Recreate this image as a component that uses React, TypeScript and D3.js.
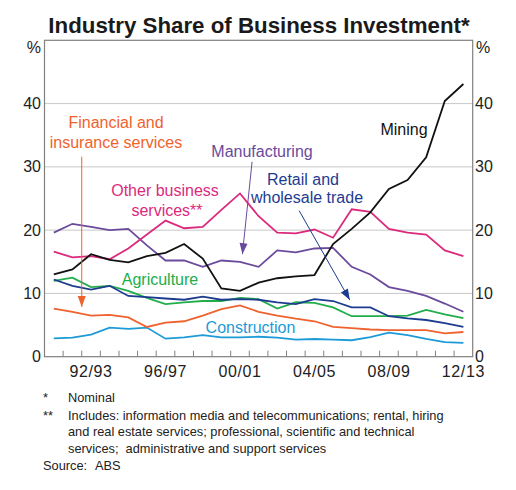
import * as d3 from "d3";

const years = ["90/91", "91/92", "92/93", "93/94", "94/95", "95/96", "96/97", "97/98", "98/99", "99/00", "00/01", "01/02",
    "02/03", "03/04", "04/05", "05/06", "06/07", "07/08", "08/09", "09/10", "10/11", "11/12", "12/13"];
const yearLabels = ["92/93", "96/97", "00/01", "04/05", "08/09", "12/13"];
const yTicks = [0, 10, 20, 30, 40];

// shares of business investment, per cent
const mining = [13.0, 13.8, 16.2, 15.3, 14.9, 15.9, 16.4, 17.8, 15.5, 10.8, 10.4, 11.7, 12.4, 12.7, 12.9, 17.8, 20.2, 22.8, 26.5, 27.9, 31.5, 40.4, 43.1];
const otherBusiness = [16.6, 15.7, 15.9, 15.4, 17.1, 19.3, 21.5, 20.3, 20.5, 23.2, 25.8, 22.2, 19.6, 19.5, 20.1, 18.8, 23.3, 22.9, 20.2, 19.6, 19.3, 16.8, 15.9];
const manufacturing = [19.6, 21.0, 20.5, 20.0, 20.2, 17.6, 15.2, 15.2, 14.2, 15.2, 15.0, 14.2, 16.8, 16.5, 17.1, 17.2, 14.2, 13.0, 11.0, 10.4, 9.6, 8.4, 7.1];
const retail = [12.2, 11.2, 10.6, 11.2, 9.6, 9.4, 9.2, 9.0, 9.5, 9.0, 9.1, 9.0, 8.6, 8.3, 9.1, 8.8, 7.8, 7.8, 6.4, 6.05, 5.8, 5.3, 4.7];
const agriculture = [12.0, 12.5, 11.0, 11.2, 10.4, 9.3, 8.3, 8.6, 8.8, 8.8, 9.3, 9.1, 7.6, 8.6, 8.5, 7.8, 6.4, 6.4, 6.4, 6.5, 7.4, 6.7, 6.1];
const financial = [7.6, 7.1, 6.5, 6.6, 6.2, 4.7, 5.4, 5.6, 6.5, 7.5, 8.1, 7.1, 6.5, 6.0, 5.6, 4.7, 4.5, 4.3, 4.2, 4.2, 4.2, 3.7, 3.9];
const construction = [2.9, 3.0, 3.5, 4.6, 4.4, 4.6, 2.85, 3.05, 3.4, 3.05, 3.05, 3.15, 3.0, 2.7, 2.8, 2.7, 2.6, 3.1, 3.8, 3.4, 2.8, 2.3, 2.2];

const series = [
    {name: "Construction", values: construction, color: "#1c9bd7"},
    {name: "Financial", values: financial, color: "#f0622d"},
    {name: "Agriculture", values: agriculture, color: "#22ad4b"},
    {name: "Retail", values: retail, color: "#1d3c8f"},
    {name: "Manufacturing", values: manufacturing, color: "#6a4a9c"},
    {name: "Other", values: otherBusiness, color: "#db2a7e"},
    {name: "Mining", values: mining, color: "#111111"},
];

const font = "Arial, 'Liberation Sans', sans-serif";
const frame = {left: 44.5, right: 472.7, top: 40.3, bottom: 356.7};

function arrowHead(x1: number, y1: number, x2: number, y2: number, len = 11, half = 4) {
    const a = Math.atan2(y2 - y1, x2 - x1);
    const bx = x2 - len * Math.cos(a), by = y2 - len * Math.sin(a);
    const px = -Math.sin(a) * half, py = Math.cos(a) * half;
    return `M${x2},${y2}L${bx + px},${by + py}L${bx - px},${by - py}Z`;
}

export default function App() {
    const x = d3.scaleBand().domain(years).range([frame.left, frame.right]).padding(0);
    const y = d3.scaleLinear().domain([0, 50]).range([frame.bottom, frame.top]);
    const bw = x.bandwidth();
    const cx = (i: number) => (x(years[i]) as number) + bw / 2;
    const xf = (t: number) => frame.left + t * bw;

    const line = d3.line<number>().x((d, i) => cx(i)).y(d => y(d));

    // annotation arrows (band units, percent)
    const arrows = [
        {x1: xf(2), y1: y(31.6), x2: xf(2), y2: y(7.85), color: "#f0622d"},
        {x1: xf(11.15), y1: y(30.8), x2: xf(10.63), y2: y(16.2), color: "#6a4a9c"},
        {x1: xf(13.68), y1: y(23.07), x2: xf(16.4), y2: y(8.96), color: "#1d3c8f"},
    ];

    return (
        <svg width={516} height={490} style={{position: "absolute", left: 0, top: 0, background: "#fff"}}
             fontFamily={font}>
            <text x={259} y={33.3} textAnchor="middle" fontSize={22.3} fontWeight="bold" fill="#1a1a1a">
                Industry Share of Business Investment*
            </text>

            {/* gridlines */}
            {yTicks.filter(t => t > 0).map(t => (
                <line key={t} x1={frame.left} x2={frame.right} y1={y(t)} y2={y(t)} stroke="#c8c8c8" strokeWidth={1}/>
            ))}

            {/* frame */}
            <rect x={frame.left} y={frame.top} width={frame.right - frame.left} height={frame.bottom - frame.top}
                  fill="none" stroke="#808080" strokeWidth={1.2}/>

            {/* x ticks */}
            {years.slice(1).map(yr => (
                <line key={yr} x1={x(yr)} x2={x(yr)} y1={frame.bottom} y2={frame.bottom - 6} stroke="#808080"
                      strokeWidth={1}/>
            ))}
            {yearLabels.map(l => (
                <text key={l} x={(x(l) as number) + bw / 2} y={377} textAnchor="middle" fontSize={16}
                      letterSpacing={0.6} fill="#222">{l}</text>
            ))}

            {/* y labels */}
            {yTicks.map(t => (
                <g key={t}>
                    <text x={41} y={y(t) + 5.6} textAnchor="end" fontSize={16} fill="#222">{t}</text>
                    <text x={475} y={y(t) + 5.6} textAnchor="start" fontSize={16} fill="#222">{t}</text>
                </g>
            ))}
            <text x={41} y={53.3} textAnchor="end" fontSize={16} fill="#222">%</text>
            <text x={476} y={53.3} textAnchor="start" fontSize={16} fill="#222">%</text>

            {/* series */}
            {series.map(s => (
                <path key={s.name} d={line(s.values) as string} fill="none" stroke={s.color} strokeWidth={1.8}
                      strokeLinejoin="miter"/>
            ))}

            {/* arrows */}
            {arrows.map((a, i) => (
                <g key={i}>
                    <line x1={a.x1} y1={a.y1} x2={a.x2} y2={a.y2} stroke={a.color} strokeWidth={1}/>
                    <path d={arrowHead(a.x1, a.y1, a.x2, a.y2)} fill={a.color}/>
                </g>
            ))}

            {/* labels */}
            <g fontSize={16}>
                <text x={116} y={128.3} textAnchor="middle" fill="#f0622d">Financial and</text>
                <text x={116} y={148} textAnchor="middle" fill="#f0622d">insurance services</text>
                <text x={262} y={157.3} textAnchor="middle" fill="#6a4a9c">Manufacturing</text>
                <text x={165} y={195.7} textAnchor="middle" fill="#db2a7e">Other business</text>
                <text x={167} y={215.7} textAnchor="middle" fill="#db2a7e">services**</text>
                <text x={303} y={185} textAnchor="middle" fill="#1d3c8f">Retail and</text>
                <text x={307} y={202.7} textAnchor="middle" fill="#1d3c8f">wholesale trade</text>
                <text x={404} y={135} textAnchor="middle" fill="#111">Mining</text>
                <text x={160} y={285} textAnchor="middle" fill="#22ad4b">Agriculture</text>
                <text x={250.5} y={333.3} textAnchor="middle" fill="#1c9bd7">Construction</text>
            </g>

            {/* footnotes */}
            <g fontSize={12.8} fill="#222">
                <text x={43} y={401.5}>*</text>
                <text x={68} y={401.5}>Nominal</text>
                <text x={43} y={419.5}>**</text>
                <text x={68} y={419.5}>Includes: information media and telecommunications; rental, hiring</text>
                <text x={68} y={436}>and real estate services; professional, scientific and technical</text>
                <text x={68} y={452.5} style={{whiteSpace: "pre"}}>services;  administrative and support services</text>
                <text x={43} y={470}>Source:</text>
                <text x={95} y={470}>ABS</text>
            </g>
        </svg>
    );
}
